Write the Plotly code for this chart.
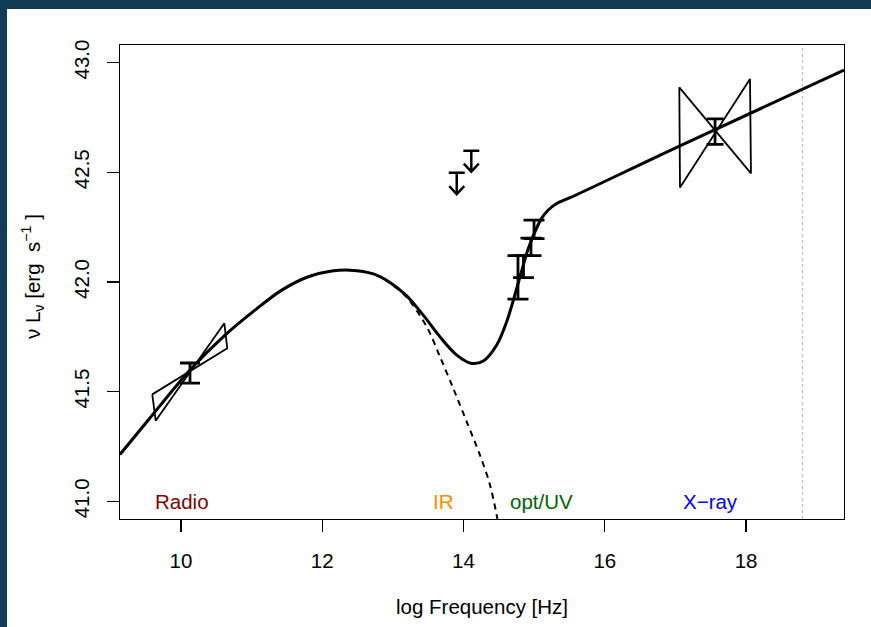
import plotly.graph_objects as go

# ---------------- data ----------------
# total SED model (solid)
sed_x = [9.136, 9.537, 10.127, 10.623, 11.047, 11.426, 11.802, 12.134, 12.393,
         12.723, 12.959, 13.195, 13.430, 13.667, 13.904, 14.116, 14.280, 14.470,
         14.611, 14.753, 14.846, 14.917, 15.107, 15.200, 15.319, 15.508, 17.041, 19.387]
sed_y = [41.214, 41.371, 41.599, 41.758, 41.872, 41.963, 42.024, 42.050, 42.054,
         42.037, 41.998, 41.937, 41.849, 41.750, 41.667, 41.629, 41.640, 41.713,
         41.819, 41.971, 42.077, 42.153, 42.291, 42.328, 42.358, 42.384, 42.617, 42.966]

# synchrotron component (dashed)
sync_x = [9.136, 9.537, 10.127, 10.623, 11.047, 11.426, 11.802, 12.134, 12.393,
          12.723, 12.959, 13.195, 13.479, 13.667, 13.855, 14.045, 14.233, 14.375, 14.480]
sync_y = [41.214, 41.371, 41.599, 41.758, 41.872, 41.963, 42.024, 42.050, 42.054,
          42.037, 41.995, 41.930, 41.796, 41.659, 41.515, 41.363, 41.211, 41.075, 40.920]

# measurements
radio_x = [10.127]
radio_y = [41.585]
radio_err = [0.046]

opt_x = [14.771, 14.849, 14.955, 14.998]
opt_y = [42.021, 42.070, 42.160, 42.240]
opt_err = [0.099, 0.050, 0.040, 0.042]

xray_x = [17.561]
xray_y = [42.685]
xray_err = [0.058]

# upper limits
lim_x = [13.904, 14.110]
lim_y = [42.498, 42.598]
lim_len = [0.098, 0.095]

# bow-ties (spectral slope uncertainty)
radio_bow_x = [9.593, 10.655, 10.613, 9.641, 9.593]
radio_bow_y = [41.488, 41.698, 41.812, 41.368, 41.488]
xray_bow_x = [17.055, 18.070, 18.056, 17.065, 17.055]
xray_bow_y = [42.887, 42.495, 42.925, 42.431, 42.887]

# band labels
band_names = ["Radio", "IR", "opt/UV", "X\u2212ray"]
band_x = [10.01, 13.72, 15.106, 17.50]
band_y = [41.0, 41.0, 41.0, 41.0]
band_colors = ["#8B0000", "#FF8C00", "#006400", "#0000FF"]

edge_x = 18.80  # dotted vertical marker

x_ticks = [10, 12, 14, 16, 18]
y_ticks = [41.0, 41.5, 42.0, 42.5, 43.0]
y_tick_text = ["41.0", "41.5", "42.0", "42.5", "43.0"]

x_range = [9.136, 19.387]
y_range = [40.92, 43.08]

# ---------------- layout geometry ----------------
W, H = 871, 627
ML, MR, MT, MB = 120, 27, 45, 108
PW, PH = W - ML - MR, H - MT - MB
px_x = PW / (x_range[1] - x_range[0])
px_y = PH / (y_range[1] - y_range[0])

FONT = "Liberation Sans, Arial, Helvetica, sans-serif"
FS = 20.5
BG = "#103c56"

fig = go.Figure()

# synchrotron (dashed)
fig.add_trace(go.Scatter(x=sync_x, y=sync_y, mode="lines",
                         line=dict(color="black", width=2, dash="6px,5px",
                                   shape="spline", smoothing=0.9)))
# total (solid)
fig.add_trace(go.Scatter(x=sed_x, y=sed_y, mode="lines",
                         line=dict(color="black", width=3, shape="spline", smoothing=0.9)))

# bowties
for bx, by in [(radio_bow_x, radio_bow_y), (xray_bow_x, xray_bow_y)]:
    fig.add_trace(go.Scatter(x=bx, y=by, mode="lines",
                             line=dict(color="black", width=1.8)))

# error bars
for ex, ey, ee, w in [(radio_x, radio_y, radio_err, 10),
                      (opt_x, opt_y, opt_err, 10.5),
                      (xray_x, xray_y, xray_err, 8.5)]:
    fig.add_trace(go.Scatter(x=ex, y=ey, mode="markers",
                             marker=dict(size=1, color="rgba(0,0,0,0)"),
                             error_y=dict(type="data", array=ee, visible=True,
                                          color="black", thickness=2.8, width=w)))

# upper limits: cap + stem + open V head
cap_hw = 8 / px_x
head_hw = 7.5 / px_x
head_h = 8 / px_y
ux, uy = [], []
for x, y, L in zip(lim_x, lim_y, lim_len):
    tip = y - L
    ux += [x - cap_hw, x + cap_hw, None, x, x, None,
           x - head_hw, x, x + head_hw, None]
    uy += [y, y, None, y, tip, None,
           tip + head_h, tip, tip + head_h, None]
fig.add_trace(go.Scatter(x=ux, y=uy, mode="lines",
                         line=dict(color="black", width=2.5)))

annotations = []
for name, bx, by, c in zip(band_names, band_x, band_y, band_colors):
    annotations.append(dict(x=bx, y=by, xref="x", yref="y", text=name,
                            showarrow=False, xanchor="center", yanchor="middle",
                            font=dict(family=FONT, size=FS, color=c)))

annotations.append(dict(x=(482 - ML) / PW, y=-(606 - (MT + PH)) / PH,
                        xref="paper", yref="paper", text="log Frequency [Hz]",
                        showarrow=False, xanchor="center", yanchor="middle",
                        font=dict(family=FONT, size=FS, color="black")))
annotations.append(dict(x=(32 - ML) / PW, y=((MT + PH) - 277) / PH,
                        xref="paper", yref="paper",
                        text="\u03bd L<sub>\u03bd</sub> [erg  s<sup>\u22121</sup> ]",
                        textangle=-90,
                        showarrow=False, xanchor="center", yanchor="middle",
                        font=dict(family=FONT, size=FS, color="black")))

shapes = [
    dict(type="rect", xref="paper", yref="paper",
         x0=(7 - ML) / PW, x1=1.1, y0=-0.3, y1=((MT + PH) - 9) / PH,
         fillcolor="white", line=dict(width=0), layer="below"),
    dict(type="line", xref="x", yref="paper", x0=edge_x, x1=edge_x, y0=0, y1=1,
         line=dict(color="#BEBEBE", width=1.2, dash="dot"), layer="below"),
]

fig.update_layout(
    width=W, height=H,
    margin=dict(l=ML, r=MR, t=MT, b=MB),
    paper_bgcolor=BG, plot_bgcolor="white",
    showlegend=False, hovermode=False,
    annotations=annotations, shapes=shapes,
    font=dict(family=FONT, size=FS, color="black"),
)
fig.update_xaxes(range=x_range, tickvals=x_ticks, ticks="outside", ticklen=12,
                 tickwidth=1.2, tickcolor="black", showline=True, linecolor="black",
                 linewidth=1.2, mirror=True, showgrid=False, zeroline=False,
                 tickfont=dict(family=FONT, size=FS, color="black"),
                 ticklabelstandoff=11)
fig.update_yaxes(range=y_range, tickvals=y_ticks, ticktext=y_tick_text,
                 ticks="outside", ticklen=12, tickwidth=1.2, tickcolor="black",
                 showline=True, linecolor="black", linewidth=1.2, mirror=True,
                 showgrid=False, zeroline=False, tickangle=-90,
                 tickfont=dict(family=FONT, size=FS, color="black"),
                 ticklabelstandoff=10)

fig.write_html(
    "out.html",
    config={"displayModeBar": False, "staticPlot": True},
    post_script="document.body.style.margin='0px';"
                "document.body.style.background='" + BG + "';"
                "document.body.style.overflow='hidden';",
)
